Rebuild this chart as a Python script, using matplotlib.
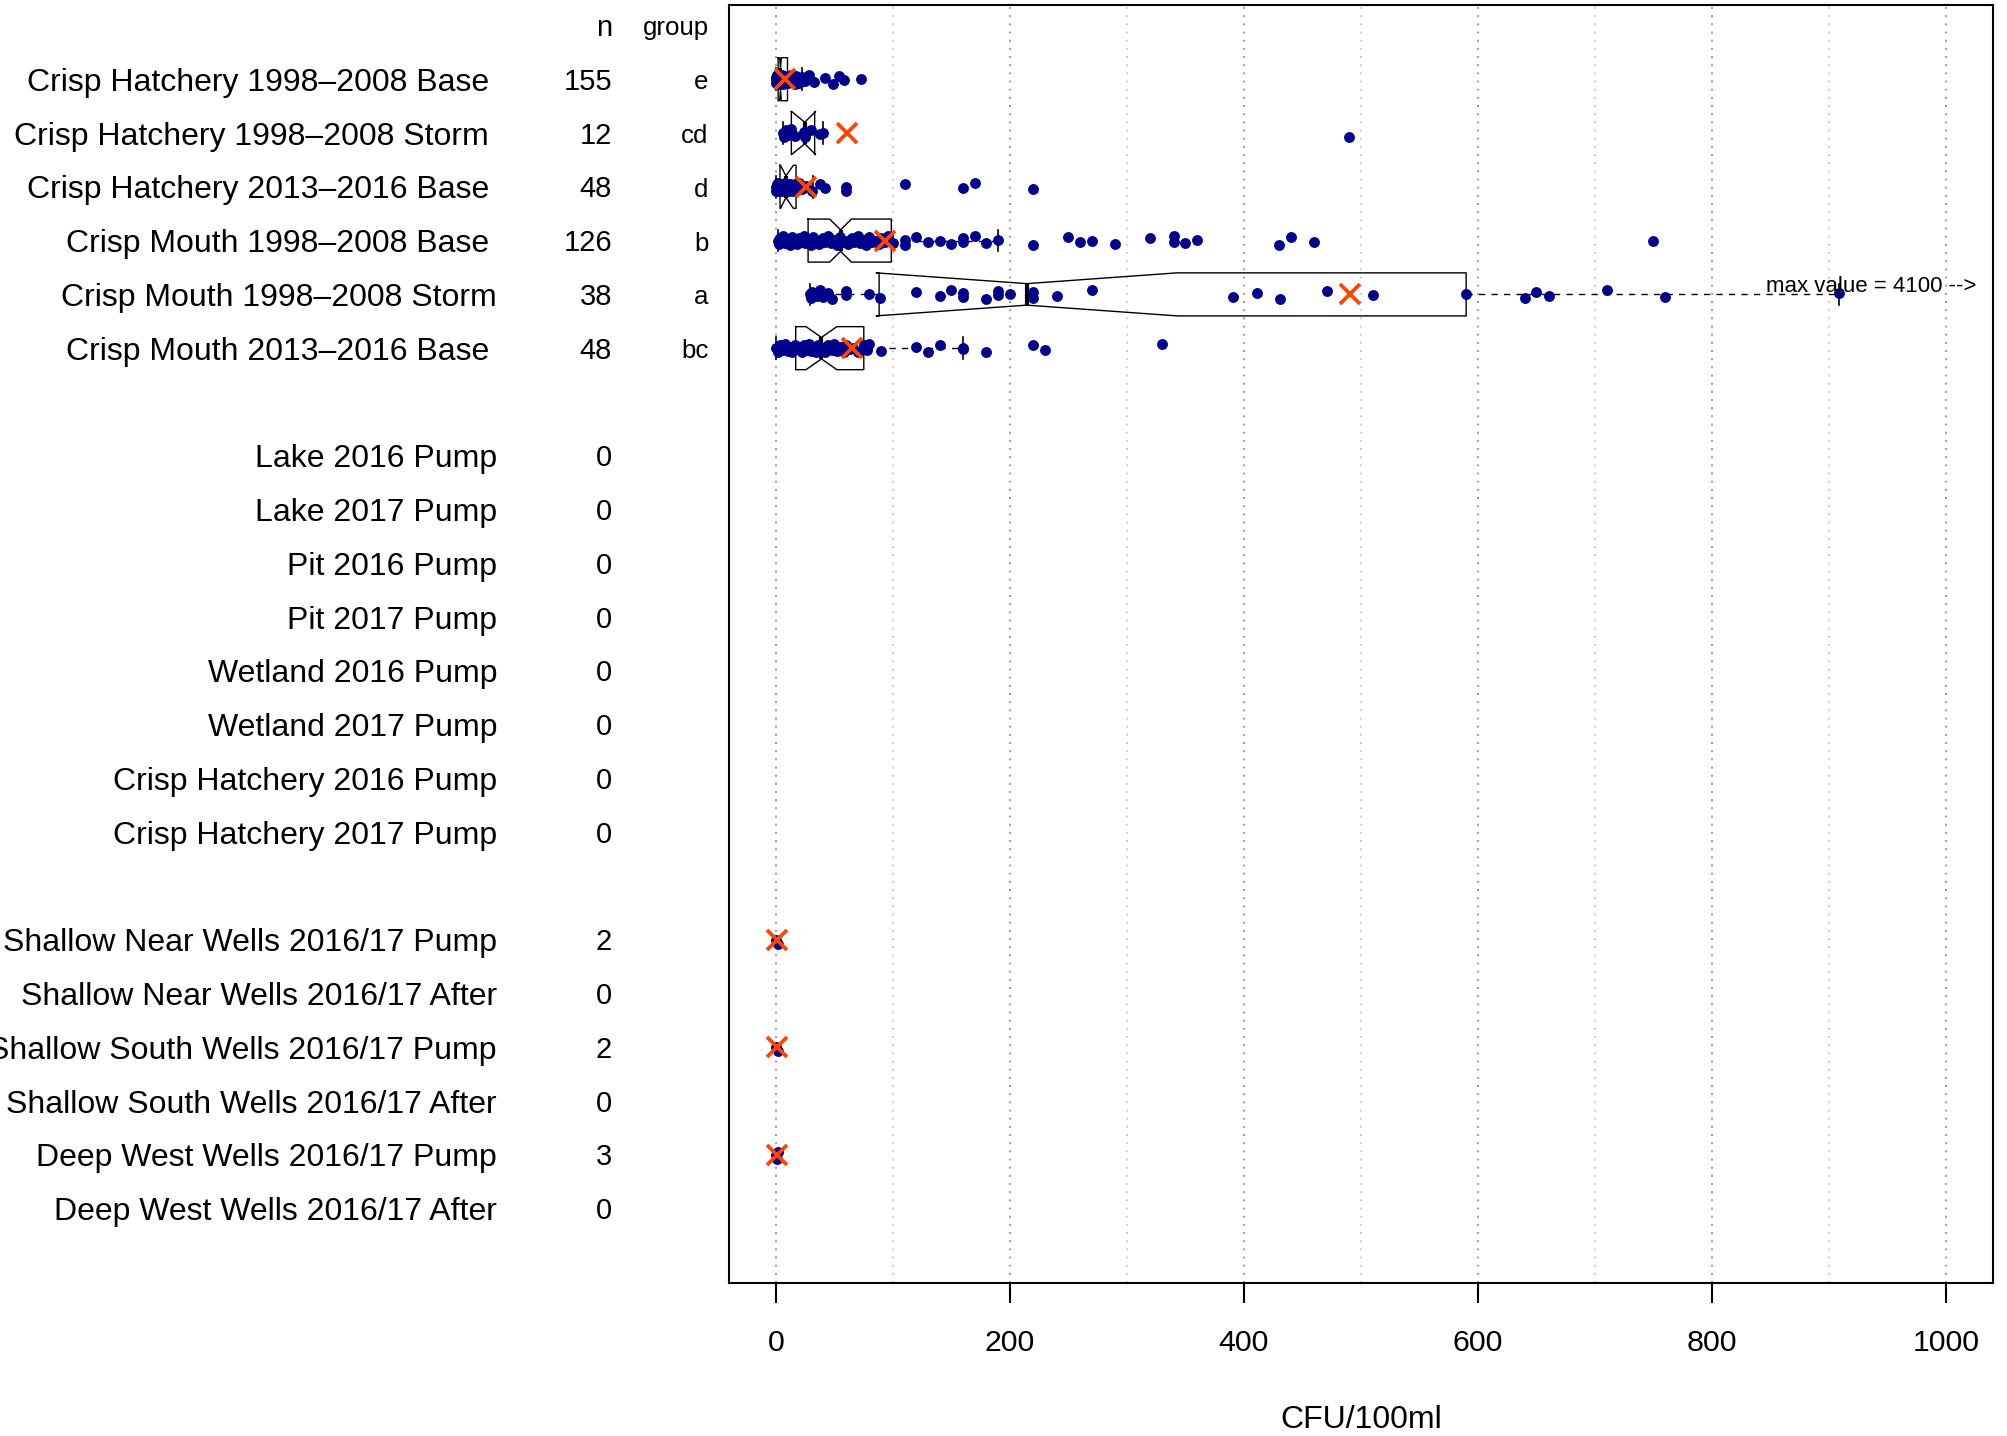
import matplotlib
matplotlib.use("Agg")
import matplotlib.pyplot as plt
import matplotlib.transforms as mtransforms

plt.rcParams['font.family'] = ['Liberation Sans', 'DejaVu Sans']

# ---- sites, counts and significance groups ---------------------------------
site_labels = [
    "Crisp Hatchery 1998–2008 Base",
    "Crisp Hatchery 1998–2008 Storm",
    "Crisp Hatchery 2013–2016 Base",
    "Crisp Mouth 1998–2008 Base",
    "Crisp Mouth 1998–2008 Storm",
    "Crisp Mouth 2013–2016 Base",
    "Lake 2016 Pump",
    "Lake 2017 Pump",
    "Pit 2016 Pump",
    "Pit 2017 Pump",
    "Wetland 2016 Pump",
    "Wetland 2017 Pump",
    "Crisp Hatchery 2016 Pump",
    "Crisp Hatchery 2017 Pump",
    "Shallow Near Wells 2016/17 Pump",
    "Shallow Near Wells 2016/17 After",
    "Shallow South Wells 2016/17 Pump",
    "Shallow South Wells 2016/17 After",
    "Deep West Wells 2016/17 Pump",
    "Deep West Wells 2016/17 After",
]
row_positions = [1, 2, 3, 4, 5, 6,
                 8, 9, 10, 11, 12, 13, 14, 15,
                 17, 18, 19, 20, 21, 22]
n_obs = [155, 12, 48, 126, 38, 48,
         0, 0, 0, 0, 0, 0, 0, 0,
         2, 0, 2, 0, 3, 0]
group_letters = ["e", "cd", "d", "b", "a", "bc"]

# ---- observations (CFU/100ml) -------------------------------------------------
hatch_base_9808 = [0, 0, 0, 1, 1, 1, 2, 2, 2, 3, 3, 3, 4, 4, 5, 5, 6, 6, 7, 8,
                   9, 10, 11, 12, 13, 14, 15, 16, 17, 18, 19, 20, 22,
                   25, 28, 33, 42, 49, 54, 58, 73]
hatch_storm_9808 = [6, 7, 9, 10.5, 13, 16, 24, 25, 30, 38, 40, 490]
hatch_base_1316 = [0, 0, 1, 1, 2, 2, 3, 3, 4, 4, 5, 5, 6, 7, 8, 9, 10, 11, 12,
                   13, 14, 15, 16, 18, 20, 22, 26, 31, 38, 42, 60, 60,
                   110, 160, 170, 220]
mouth_base_9808 = [2, 3, 4, 5, 6, 8, 10, 12, 14, 15, 16, 18, 20, 22, 24, 25,
                   27, 30, 32, 34, 35, 37, 40, 42, 45, 47, 50, 52, 55, 57, 60,
                   62, 65, 67, 70, 72, 75, 77, 80, 82, 85, 88, 90, 93, 96, 100,
                   110, 110, 120, 130, 140, 150, 160, 160, 170, 180, 190,
                   220, 250, 260, 270, 290, 320, 340, 340, 350, 360,
                   430, 440, 460, 750]
mouth_storm_9808 = [29, 30, 31, 35, 38, 40, 45, 48, 60, 60, 80, 89, 120, 140,
                    150, 160, 160, 180, 190, 190, 200, 220, 220, 240, 270,
                    391, 411, 431, 471, 510, 590, 640, 650, 661, 710, 760, 909,
                    4100]
mouth_base_1316 = [0, 2, 4, 6, 8, 10, 12, 14, 16, 18, 20, 22, 24, 26, 28, 30,
                   32, 34, 36, 38, 40, 42, 45, 48, 50, 52, 55, 58, 60, 63, 66,
                   70, 75, 78, 80, 90, 120, 130, 140, 160, 160, 180, 220, 230,
                   330]
near_pump_1617 = [0, 2]
south_pump_1617 = [0, 2]
deep_pump_1617 = [0, 1, 2]

sample_values = [hatch_base_9808, hatch_storm_9808, hatch_base_1316,
                 mouth_base_9808, mouth_storm_9808, mouth_base_1316,
                 near_pump_1617, south_pump_1617, deep_pump_1617]
sample_rows = [0, 1, 2, 3, 4, 5, 14, 16, 18]
sample_means = [8, 61, 25.5, 93, 491, 65, 1, 1, 1]

# ---- box summaries (notched boxplots, surface-water sites) --------------------
box_q1 = [2, 13.3, 3.6, 27.6, 88.3, 17]
box_med = [4, 24.7, 8.7, 55.4, 214.5, 39]
box_q3 = [10, 33.2, 17.3, 98.7, 590, 75.2]
whisker_lo = [0, 6, 0, 2, 29, 0]
whisker_hi = [22, 40, 31.6, 190, 909, 160]
notch_lo = [3.3, 13.5, 4, 46, 85.8, 25.8]
notch_hi = [4.7, 34, 15, 64.6, 343, 52.2]

# ---- figure -----------------------------------------------------------------
W, H = 2007, 1436
fig = plt.figure(figsize=(W / 100, H / 100), dpi=100)
ax_left, ax_right, ax_top, ax_bottom = 729, 1992.7, 5, 1283
ax = fig.add_axes([ax_left / W, 1 - ax_bottom / H,
                   (ax_right - ax_left) / W, (ax_bottom - ax_top) / H])
ax.set_xlim(-40, 1040)
ax.set_ylim(23.38, -0.38)

# dotted vertical grid: darker on labelled ticks, lighter halfway between
ax.set_xticks(range(0, 1001, 200))
ax.set_xticks(range(100, 1000, 200), minor=True)
ax.xaxis.grid(True, which='major', color='#9a9a9a', linestyle=(0, (1, 3.2)), linewidth=1.4)
ax.xaxis.grid(True, which='minor', color='#cdcdcd', linestyle=(0, (1, 3.2)), linewidth=1.4)
ax.set_axisbelow(True)
ax.set_yticks([])
ax.tick_params(axis='x', which='major', length=14.4, width=1.5, labelsize=21.8, pad=19)
ax.tick_params(axis='x', which='minor', length=0)
for sp in ax.spines.values():
    sp.set_linewidth(1.5)

positions = [row_positions[r] for r in sample_rows]
stats = []
for i in range(len(box_med)):
    stats.append(dict(med=box_med[i], q1=box_q1[i], q3=box_q3[i],
                      whislo=whisker_lo[i], whishi=whisker_hi[i],
                      cilo=notch_lo[i], cihi=notch_hi[i], fliers=[]))

bxp_kw = dict(positions=positions[:len(stats)], widths=0.8, shownotches=True,
              showfliers=False, capwidths=0.4, manage_ticks=False,
              boxprops=dict(color='black', linewidth=1.0),
              whiskerprops=dict(color='black', linewidth=1.0, linestyle=(0, (4.5, 4.5))),
              capprops=dict(color='black', linewidth=1.2),
              medianprops=dict(color='black', linewidth=3.0),
              zorder=2)
try:
    ax.bxp(stats, orientation='horizontal', **bxp_kw)
except TypeError:
    ax.bxp(stats, vert=False, **bxp_kw)

# individual observations, spread slightly around each row
jitter_cycle = [0.0, 0.07, -0.05, 0.03, -0.08, 0.05, -0.02, 0.08, -0.06, 0.02]
for vals, pos in zip(sample_values, positions):
    ys = [pos + jitter_cycle[k % len(jitter_cycle)] for k in range(len(vals))]
    ax.plot(vals, ys, linestyle='none', marker='o', markersize=6.8,
            markerfacecolor='#00008B', markeredgecolor='#00008B', zorder=3)

# sample means
ax.plot(sample_means, positions, linestyle='none', marker='x', markersize=14.5,
        markeredgewidth=2.7, color='#FF4500', zorder=4)

# note for the value that lies beyond the axis
ax.text(1026, row_positions[4] - 0.04,
        f"max value = {max(mouth_storm_9808):.0f} -->",
        ha='right', va='baseline', fontsize=16, zorder=5)

# ---- table of labels to the left of the plot ------------------------------------
base = mtransforms.blended_transform_factory(fig.transFigure, ax.transData)
lab_tr = mtransforms.offset_copy(base, fig=fig, y=-11.5, units='dots')
n_tr = mtransforms.offset_copy(base, fig=fig, y=-10.5, units='dots')
grp_tr = mtransforms.offset_copy(base, fig=fig, y=-10.0, units='dots')

label_right_px = [489, 489, 489, 489, 497, 489] + [497] * 14
n_right_px = 612
group_right_px = 708.5

for lab, pos, xr in zip(site_labels, row_positions, label_right_px):
    ax.text(xr / W, pos, lab, transform=lab_tr, ha='right', va='baseline',
            fontsize=23, clip_on=False)
for n, pos in zip(n_obs, row_positions):
    ax.text(n_right_px / W, pos, str(n), transform=n_tr, ha='right',
            va='baseline', fontsize=21, clip_on=False)
for g, pos in zip(group_letters, row_positions):
    ax.text(group_right_px / W, pos, g, transform=grp_tr, ha='right',
            va='baseline', fontsize=18.6, clip_on=False)
ax.text(n_right_px / W, 0, "n", transform=n_tr, ha='right', va='baseline',
        fontsize=21, clip_on=False)
ax.text(group_right_px / W, 0, "group", transform=grp_tr, ha='right',
        va='baseline', fontsize=18.6, clip_on=False)

ax.set_xlabel("CFU/100ml", fontsize=23)
ax.xaxis.label.set_va('baseline')
ax.xaxis.set_label_coords(0.5, ((H - 1428.3) - (H - ax_bottom)) / (ax_bottom - ax_top))

fig.savefig("out.png", dpi=100)
